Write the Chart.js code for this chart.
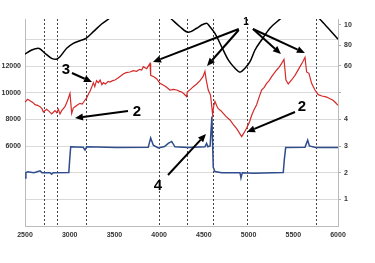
<!DOCTYPE html>
<html>
<head>
<meta charset="utf-8">
<script src="https://cdn.jsdelivr.net/npm/chart.js@4"></script>
<style>
  html, body { margin: 0; padding: 0; background: #fff; }
  #chart { display: block; }
</style>
</head>
<body>
<canvas id="chart" width="375" height="263"></canvas>
<script>
// red trace, left axis
const redSeries = [
  [2500, 9300], [2530, 9500], [2556, 9400], [2590, 9250], [2612, 9100], [2640, 9050],
  [2668, 8950], [2690, 8800], [2705, 8550], [2742, 8750], [2770, 8600], [2798, 8400],
  [2820, 8550], [2835, 8650], [2855, 8500], [2873, 8750], [2891, 8400], [2910, 8650],
  [2947, 8950], [2975, 9400], [3003, 9950], [3022, 8450], [3040, 8850], [3059, 8950],
  [3090, 9100], [3115, 9200], [3140, 9150], [3171, 9450], [3190, 9600], [3210, 9900],
  [3227, 10100], [3245, 10400], [3264, 10750], [3280, 10450], [3300, 10900], [3320, 10750],
  [3340, 10950], [3360, 10600], [3376, 10750], [3400, 10650], [3430, 10850], [3450, 10800],
  [3480, 10900], [3506, 10950], [3540, 11100], [3570, 11250], [3599, 11400], [3630, 11500],
  [3674, 11550], [3710, 11650], [3749, 11600], [3780, 11750], [3805, 11700], [3823, 11950],
  [3861, 11800], [3898, 12200], [3905, 11300], [3940, 11200], [3972, 11050], [4009, 10700],
  [4050, 10550], [4084, 10400], [4121, 10200], [4160, 10250], [4196, 10200], [4230, 10100],
  [4252, 10050], [4280, 9900], [4308, 9700], [4315, 10050], [4350, 10250], [4382, 10450],
  [4420, 10650], [4457, 10900], [4490, 11200], [4512, 11600], [4525, 11000], [4549, 10200],
  [4575, 9800], [4598, 8350], [4610, 9000], [4624, 9350], [4645, 9000], [4661, 8800],
  [4690, 8650], [4717, 8450], [4750, 8200], [4792, 7950], [4830, 7600], [4867, 7300],
  [4900, 6950], [4923, 6700], [4950, 7000], [4979, 7350], [5010, 7800], [5035, 8300],
  [5060, 8700], [5090, 9100], [5120, 9700], [5146, 10200], [5175, 10400], [5202, 10700],
  [5230, 10900], [5258, 11200], [5285, 11450], [5314, 11700], [5340, 11900], [5370, 12200],
  [5396, 12500], [5418, 10950], [5444, 10650], [5481, 10950], [5519, 11300], [5545, 11600],
  [5575, 11950], [5605, 12300], [5631, 12650], [5649, 11550], [5675, 11450], [5705, 10700],
  [5742, 10200], [5779, 9850], [5820, 9750], [5854, 9700], [5880, 9650], [5910, 9550],
  [5940, 9450], [5966, 9300], [6000, 9050],
];

// blue trace, right axis (1..4)
const blueSeries = [
  [2500, 1.8], [2510, 2.0], [2530, 2.03], [2600, 2.0], [2668, 2.07], [2690, 2.0],
  [2780, 2.0], [2798, 1.94], [2815, 2.0], [2990, 2.01], [3000, 2.5], [3011, 2.97],
  [3150, 2.95], [3171, 2.85], [3190, 2.97], [3525, 2.94], [3878, 2.95], [3905, 3.3],
  [3935, 3.03], [3990, 2.93], [4060, 2.98], [4102, 3.1], [4140, 3.17], [4177, 2.97],
  [4326, 2.94], [4512, 2.97], [4531, 3.1], [4545, 2.97], [4570, 3.0], [4590, 4.1],
  [4605, 2.2], [4624, 2.04], [4700, 2.0], [4904, 2.0], [4915, 1.8], [4930, 2.0],
  [5053, 1.98], [5388, 2.01], [5400, 2.5], [5415, 2.94], [5631, 2.95], [5661, 3.22],
  [5680, 3.0], [5750, 2.94], [6000, 2.94],
];

// black trace, right axis (60..100), runs off the top in two places
const blackSeries = [
  [2500, 71.7], [2575, 75.6], [2649, 77.3], [2724, 72.4], [2798, 67.5], [2847, 66.5],
  [2891, 69.1], [2966, 77.3], [3040, 82.1], [3115, 84.7], [3182, 87.0], [3264, 93.5],
  [3357, 101], [3431, 105.6], [3520, 112], [4060, 112], [4140, 105.6], [4233, 98.3],
  [4326, 92.9], [4419, 96.8], [4475, 100], [4531, 101.6], [4568, 98.3], [4624, 91.8],
  [4699, 78.8], [4773, 65.9], [4848, 57.8], [4904, 54], [4960, 57.8], [5016, 64.2],
  [5072, 75.6], [5146, 85.4], [5239, 96.8], [5351, 105.6], [5440, 112], [5720, 112],
  [5798, 105.6], [5891, 96.8], [6000, 86.1],
];

const xTicks = [2500, 3000, 3500, 4000, 4500, 5000, 5500, 6000];
const leftGrid = [0, 2000, 4000, 6000, 8000, 10000, 12000, 14000];
const leftLabels = [6000, 8000, 10000, 12000];
const blueLabels = [1, 2, 3, 4];
const blackLabels = [[60, "60"], [80, "80"], [100, "10"]];
const markerLines = [2710, 2860, 3180, 3995, 4310, 4600, 4980, 5750];

// callouts: text anchors and arrows, in data units of x / left axis
const calloutText = [
  ["1", 4971, 15300, 10], ["3", 2958, 11700, 15], ["2", 3752, 8550, 15],
  ["2", 5597, 8925, 15], ["4", 3987, 3000, 15],
];
const calloutArrows = [
  [3025, 11475, 3249, 10800],
  [3652, 8625, 3059, 8100],
  [4890, 14775, 3931, 12300],
  [4890, 14700, 4535, 12000],
  [5049, 14775, 5362, 12900],
  [5049, 14775, 5630, 12975],
  [5519, 8550, 4982, 7050],
  [4099, 3825, 4524, 6900],
];

const LEFT_MAX = 15525;
const RIGHT_MAX = LEFT_MAX / 2000;
const BLACK_MIN = -96.1;
const BLACK_MAX = 105.85;
const blackToRight = v => (v - BLACK_MIN) / (BLACK_MAX - BLACK_MIN) * RIGHT_MAX;

const FONT = "'Liberation Sans', Arial, sans-serif";
const tickFont = { family: FONT, size: 7, weight: "bold" };

const toPoints = s => s.map(([x, y]) => ({ x, y }));

function drawArrow(ctx, x1, y1, x2, y2) {
  const ang = Math.atan2(y2 - y1, x2 - x1);
  const head = 8, half = 3.5;
  const bx = x2 - head * Math.cos(ang), by = y2 - head * Math.sin(ang);
  ctx.beginPath();
  ctx.moveTo(x1, y1);
  ctx.lineTo(bx, by);
  ctx.stroke();
  ctx.beginPath();
  ctx.moveTo(x2, y2);
  ctx.lineTo(bx + half * Math.sin(ang), by - half * Math.cos(ang));
  ctx.lineTo(bx - half * Math.sin(ang), by + half * Math.cos(ang));
  ctx.closePath();
  ctx.fill();
}

const overlay = {
  id: "overlay",
  beforeDatasetsDraw(chart) {
    const { ctx, chartArea, scales: { x } } = chart;
    ctx.save();
    ctx.strokeStyle = "#444";
    ctx.lineWidth = 1;
    ctx.setLineDash([2, 2]);
    for (const v of markerLines) {
      const px = Math.round(x.getPixelForValue(v)) + 0.5;
      ctx.beginPath();
      ctx.moveTo(px, chartArea.top);
      ctx.lineTo(px, chartArea.bottom);
      ctx.stroke();
    }
    ctx.restore();
  },
  afterDraw(chart) {
    const { ctx, scales: { x, y } } = chart;
    ctx.save();
    ctx.strokeStyle = "#000";
    ctx.fillStyle = "#000";
    ctx.lineWidth = 2;
    for (const [x1, y1, x2, y2] of calloutArrows) {
      drawArrow(ctx, x.getPixelForValue(x1), y.getPixelForValue(y1),
                     x.getPixelForValue(x2), y.getPixelForValue(y2));
    }
    ctx.textAlign = "center";
    ctx.textBaseline = "middle";
    for (const [t, vx, vy, size] of calloutText) {
      ctx.font = `bold ${size}px ${FONT}`;
      ctx.fillText(t, x.getPixelForValue(vx), y.getPixelForValue(vy));
    }
    ctx.restore();
  },
};

new Chart(document.getElementById("chart"), {
  type: "line",
  data: {
    datasets: [
      { data: toPoints(blackSeries), yAxisID: "y2", borderColor: "#000", borderWidth: 1.5, cubicInterpolationMode: "monotone" },
      { data: toPoints(redSeries), yAxisID: "y", borderColor: "#d42a2a", borderWidth: 1.2, tension: 0 },
      { data: toPoints(blueSeries), yAxisID: "y1", borderColor: "#2f4d8c", borderWidth: 1.5, tension: 0 },
    ],
  },
  options: {
    responsive: false,
    animation: false,
    devicePixelRatio: 1,
    layout: { padding: { top: 19, left: 0, right: 0, bottom: 0 } },
    elements: { point: { radius: 0 } },
    plugins: { legend: { display: false }, tooltip: { enabled: false } },
    scales: {
      x: {
        type: "linear", min: 2500, max: 6000,
        afterBuildTicks: s => { s.ticks = xTicks.map(value => ({ value })); },
        afterFit: s => { s.height = 37; },
        grid: { display: false, drawTicks: false },
        border: { color: "#bbb" },
        ticks: { font: tickFont, color: "#333", padding: 5, maxRotation: 0, callback: v => String(v) },
      },
      y: {
        position: "left", min: 0, max: LEFT_MAX,
        afterBuildTicks: s => { s.ticks = leftGrid.map(value => ({ value })); },
        afterFit: s => { s.width = 25; },
        grid: { color: "#d9d9d9", drawTicks: false },
        border: { color: "#bbb" },
        ticks: {
          font: tickFont, color: "#333", padding: 4,
          callback: v => (leftLabels.includes(v) ? String(v) : ""),
        },
      },
      y1: {
        position: "right", min: 0, max: RIGHT_MAX,
        afterBuildTicks: s => {
          s.ticks = [...blueLabels, 5, ...blackLabels.map(([v]) => blackToRight(v))].map(value => ({ value }));
        },
        afterFit: s => { s.width = 37; },
        grid: { drawOnChartArea: false, color: "#aaa", tickLength: 3 },
        border: { color: "#bbb" },
        ticks: {
          font: tickFont, color: "#333", padding: 3,
          callback: v => {
            if (blueLabels.includes(v)) return String(v);
            const b = blackLabels.find(([bv]) => Math.abs(blackToRight(bv) - v) < 1e-6);
            return b ? b[1] : "";
          },
        },
      },
      y2: { display: false, min: BLACK_MIN, max: BLACK_MAX },
    },
  },
  plugins: [overlay],
});
</script>
</body>
</html>
